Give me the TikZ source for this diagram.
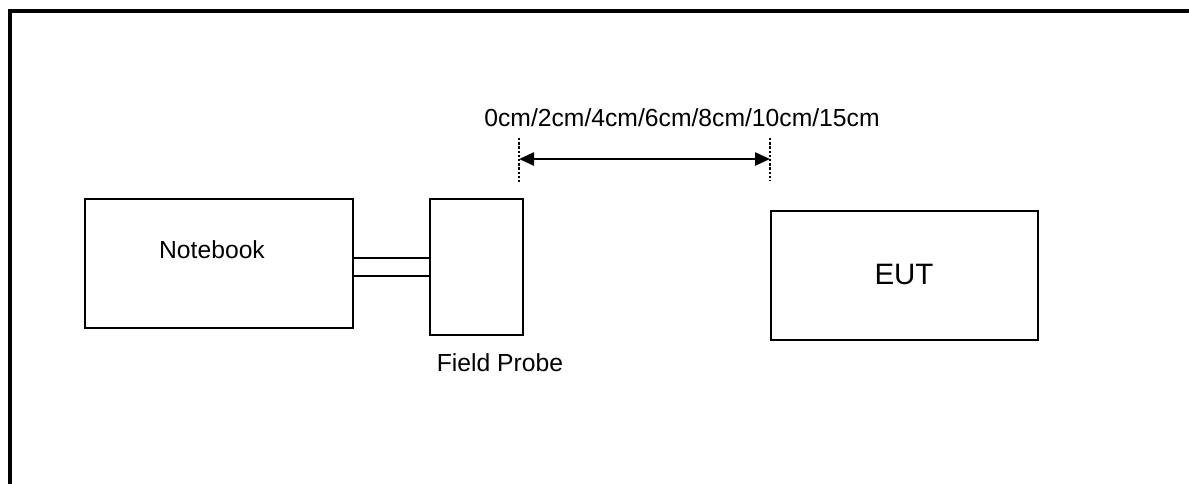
\documentclass[tikz,border=0pt]{standalone}
\usepackage{fontspec}
\setmainfont{Liberation Sans}
\usetikzlibrary{arrows.meta}
\begin{document}
\begin{tikzpicture}[x=1pt,y=-1pt,
  box/.style={draw=black,line width=2.4pt,inner sep=0pt,anchor=north west},
  lbl/.style={inner sep=0pt,font=\fontsize{24.7}{28}\selectfont},
  dots/.style={line width=2.6pt,dash pattern=on 2.4pt off 1.8pt},
  frame/.style={line width=3.8pt},
  dimline/.style={line width=2.4pt,{Triangle[length=15pt,width=13pt]}-{Triangle[length=15pt,width=13pt]}}]
\useasboundingbox (0,0) rectangle (1189,483);
% frame
\coordinate (fa) at (10,490);
\coordinate (fb) at (10,11);
\coordinate (fc) at (1195,11);
\draw[frame] (fa) -- (fb) -- (fc);
% boxes
\node[box,minimum width=268pt,minimum height=129pt] (nb) at (84,198) {};
\node[box,minimum width=93pt,minimum height=136pt] (fp) at (429,198) {};
\node[box,minimum width=267pt,minimum height=129pt] (eut) at (770,210) {};
% labels
\node[lbl] (nbl) at (212,250) {Notebook};
\node[lbl] (fpl) at (500,363) {Field Probe};
\node[inner sep=0pt,font=\fontsize{29.5}{33}\selectfont] (eutl) at (904,274) {EUT};
\node[lbl] (dist) at (682,118) {0cm/2cm/4cm/6cm/8cm/10cm/15cm};
% cable
\draw[line width=2.4pt] (nb.east |- {(0,258)}) -- (fp.west |- {(0,258)});
\draw[line width=2.4pt] (nb.east |- {(0,276)}) -- (fp.west |- {(0,276)});
% dotted markers
\coordinate (lt) at (519,138);
\coordinate (lb) at (519,183);
\coordinate (rt) at (770,138);
\coordinate (rb) at (770,181);
\draw[dots] (lt) -- (lb);
\draw[dots] (rt) -- (rb);
\coordinate (al) at (519,159);
\coordinate (ar) at (770,159);
\draw[dimline] (al) -- (ar);
\end{tikzpicture}
\end{document}
